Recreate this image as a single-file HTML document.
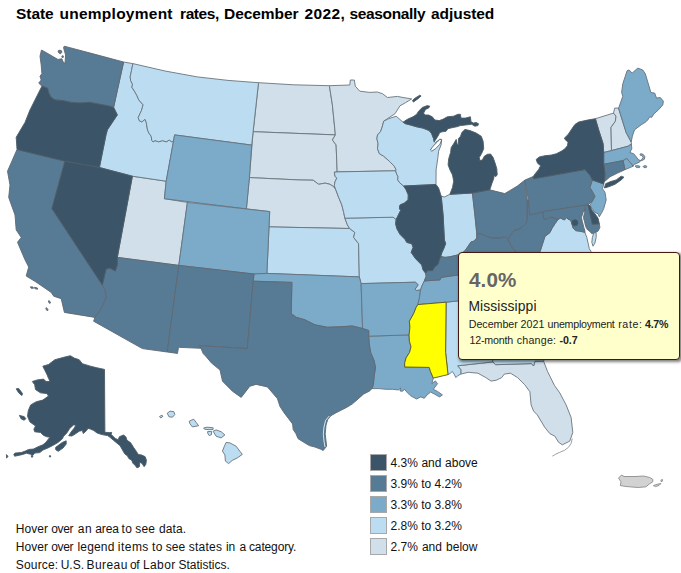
<!DOCTYPE html>
<html><head><meta charset="utf-8"><title>State unemployment rates</title>
<style>
html,body{margin:0;padding:0;background:#fff;}
body{width:681px;height:573px;position:relative;overflow:hidden;font-family:"Liberation Sans",sans-serif;color:#000;}
#title{position:absolute;left:0;top:3.9px;font-weight:bold;font-size:15.5px;white-space:pre;line-height:20px;}
#title span{position:absolute;top:0;}
svg{position:absolute;left:0;top:0;}
svg path{stroke-width:0.9;stroke-linejoin:round;}
.lb{position:absolute;left:370px;width:15px;height:15px;border:1px solid #a8a8a8;}
.lt{position:absolute;left:390.5px;font-size:12px;line-height:17px;white-space:nowrap;color:#111;}
.note{position:absolute;font-size:12px;line-height:16px;white-space:nowrap;color:#111;}
#tip{position:absolute;left:457.8px;top:251.8px;width:222.6px;height:107.8px;background:#ffffcc;border:1.2px solid #45190f;border-radius:4px;box-shadow:1.5px 1.5px 3px rgba(0,0,0,0.5);box-sizing:border-box;}
#tip div{position:absolute;left:10.2px;white-space:nowrap;color:#222;}
</style></head><body>
<svg width="681" height="573" viewBox="0 0 681 573">
<path d="M618.5,478.1 621.6,475 624.1,476.5 636,476.5 643.4,476 649.7,477.5 652.8,479.3 652.8,481.8 649.7,483.7 645.9,486.8 638.4,487.5 626,486.5 620.3,485.6 621,481.8ZM653.4,485.6 657,484.3 660.9,483.5 659,485.5 655.5,486.6ZM661,480 662.5,479.5 662.3,481.3 661,481.5Z" fill="#d2d2d2" stroke="#8c8c8c"/>
<path d="M258.5,82.7 293.7,84.8 329.4,85.7 332.4,104.9 335.4,134.9 253.1,131.7Z" fill="#d0dfe9" stroke="#6a757d"/>
<path d="M253.1,131.7 335.4,134.9 332.4,139.9 336.1,144.9 337.2,171.9 334.3,172.2 335,176.2 336.8,178.1 335,181.8 334.3,185.6 335.6,189.3 333.7,186.8 330,184.3 325,183.1 318.7,184.3 313.1,180.2 300,180 249.4,177.6Z" fill="#d0dfe9" stroke="#6a757d"/>
<path d="M249.4,177.6 300,180 313.1,180.2 318.7,184.3 325,183.1 330,184.3 333.7,186.8 335.6,189.3 338.7,197.5 341.8,204.9 343.7,212.4 344.9,218.2 347.4,224.9 349.6,228.5 269,226.9 269.7,211.6 246.4,208.9Z" fill="#d0dfe9" stroke="#6a757d"/>
<path d="M132.4,176.2 166.2,181.2 164.4,198.7 187.4,202.4 178.8,265.4 117.3,257.4Z" fill="#d0dfe9" stroke="#6a757d"/>
<path d="M329.4,85.7 349.8,85 350.3,80 354.3,80 355.3,86.2 359.8,91.2 369.8,92.4 377.3,92 382.5,93.7 387.5,97.5 397.5,96.4 403,97.5 411.7,98.9 405.5,102.7 400,105.8 395,113.7 387.5,118.7 383.7,121.2 382.2,127 380.6,131.5 377.5,135 376.9,138.7 378.1,143.7 377.5,148.7 379.4,153.7 383.7,156.2 389.3,161.2 394.3,166.2 396.2,169.9 395.6,170.8 337.2,171.9 336.1,144.9 332.4,139.9 335.4,134.9 332.4,104.9Z" fill="#d0dfe9" stroke="#6a757d"/>
<path d="M457.6,365.8 492.9,361.9 495.5,364.7 531.5,363.6 533.6,366 535,361.2 543.6,361.2 547.5,371.4 554.5,385.5 559.8,392.9 566.1,404.9 571.1,417.4 572.8,432.4 569.8,441.1 562.3,444.8 558.6,442.3 554.8,436.1 549.8,433.6 544.8,427.4 537.3,414.9 533.6,411.1 531.1,404.9 529.9,391.7 524.6,384.6 517.5,377.6 510.5,373.2 504.3,374.1 501.7,377.6 496.4,380.2 491.1,381.1 485.8,377.6 477.9,373.2 468.2,372.3 460.8,374.1 460.8,369.7Z" fill="#d0dfe9" stroke="#6a757d"/>
<path d="M595.4,118.7 613.5,113.1 616,116.2 615.4,121.2 611,127.4 611.5,150.6 603.7,152.5 603.1,143.7 598.7,130Z" fill="#d0dfe9" stroke="#6a757d"/>
<path d="M613.5,113.1 614.7,108.1 618.5,108.1 626.1,132.4 631.2,142 631.4,144 628.1,146.2 611.5,150.6 611,127.4 615.4,121.2 616,116.2Z" fill="#d0dfe9" stroke="#6a757d"/>
<path d="M123.6,62 132.9,63.6 131.5,70.5 130.2,76.7 130.6,80.5 132.5,84.2 131.9,87.3 134.4,91.1 136.9,95.5 138.7,99.8 143.1,104.8 141.5,110.5 139.8,114 138.2,117.7 139.4,120.8 141.9,121.9 145,119.3 146.2,122.2 147.5,130 149.3,133.7 151.2,136.2 151.8,140.6 153.1,141.8 155,140.6 158.7,141.8 162.5,140.6 166.2,141.8 169.3,140 171.8,141.8 173.6,140.6 166.2,181.2 132.4,176.2 99.4,167.5 106,134.8 107.3,129.9 117.3,114.9 113.6,107.4Z" fill="#bcddf1" stroke="#68747d"/>
<path d="M132.9,63.6 165,71 197.4,76.9 228,80.4 258.5,82.7 253.1,131.7 251.7,145.1 174.6,134.9 173.6,140.6 171.8,141.8 169.3,140 166.2,141.8 162.5,140.6 158.7,141.8 155,140.6 153.1,141.8 151.8,140.6 151.2,136.2 149.3,133.7 147.5,130 146.2,122.2 145,119.3 141.9,121.9 139.4,120.8 138.2,117.7 139.8,114 141.5,110.5 143.1,104.8 138.7,99.8 136.9,95.5 134.4,91.1 131.9,87.3 132.5,84.2 130.6,80.5 130.2,76.7 131.5,70.5Z" fill="#bcddf1" stroke="#68747d"/>
<path d="M269,226.9 349.6,228.5 354.8,232.4 353.6,237.4 358.6,243.7 359.3,276.9 266.9,273.4Z" fill="#bcddf1" stroke="#68747d"/>
<path d="M344.9,218.2 393.1,217.2 396.2,219.5 395.6,223.7 396.9,228.7 400,234.3 405,239.3 406.8,242.4 411.8,243.7 413.1,247.4 411.2,252.4 415.6,258.7 421.8,265 423.1,270 425.6,273.1 426.2,276.2 424.3,281 421.8,286.2 420.6,289.9 416.8,290.6 415,289.3 418.1,284.9 415.6,282.2 361.1,283.6 359.3,276.9 358.6,243.7 353.6,237.4 354.8,232.4 349.6,228.5 347.4,224.9Z" fill="#bcddf1" stroke="#68747d"/>
<path d="M337.2,171.9 395.6,170.8 396.8,174.3 398.1,176.8 397.7,179.9 400,183.1 403.7,186 406.2,189.9 408.3,194.9 408.1,200 404.3,203.1 400,205 399.4,208.1 400.6,210.6 398.7,214.3 396.2,219.5 393.1,217.2 344.9,218.2 343.7,212.4 341.8,204.9 338.7,197.5 335.6,189.3 334.3,185.6 335,181.8 336.8,178.1 335,176.2 334.3,172.2Z" fill="#bcddf1" stroke="#68747d"/>
<path d="M383.7,121.2 388.7,118.7 396.2,116.2 403,122.2 405.5,123.7 410.5,125 416.7,126.8 423,128.1 429.2,130.6 431.7,133.7 433.6,138.7 434.2,141.8 435.5,142.4 439.8,139.3 441.7,139.3 441.1,144.9 438.6,151.2 437.9,157.4 436.1,169.9 436,184.5 403.7,186 400,183.1 397.7,179.9 398.1,176.8 396.8,174.3 395.6,170.8 396.2,169.9 394.3,166.2 389.3,161.2 383.7,156.2 379.4,153.7 377.5,148.7 378.1,143.7 376.9,138.7 377.5,135 380.6,131.5 382.2,127Z" fill="#bcddf1" stroke="#68747d"/>
<path d="M441.2,196.2 444.3,197 449.9,194.3 472.4,193 474.9,215 476.8,233.7 476.8,238.1 473.7,241.2 471.2,241.8 468.1,246.2 465.6,250 463.7,251.8 458.1,254.9 455,255.6 450,256.8 445,257.4 440.6,256.5 441.9,252.5 443.7,248.7 445.6,243.7 444.4,240 443.1,215Z" fill="#bcddf1" stroke="#68747d"/>
<path d="M446.1,302.2 480,298.5 490,340 492.9,361.9 457.6,365.8 460.8,369.7 460.8,374.1 457.6,375.8 455.9,377.6 454.1,374.1 452.3,371.4 450,373.5 448,374.6 445.6,352.4Z" fill="#bcddf1" stroke="#68747d"/>
<path d="M480,298.5 507,296 515,305 535,325 548,343 543.6,361.2 535,361.2 533.6,366 531.5,363.6 495.5,364.7 492.9,361.9 490,340Z" fill="#bcddf1" stroke="#68747d"/>
<path d="M558.1,219.3 560.6,218.1 564.3,220 566.8,217.5 568.1,219.3 570.6,220 572,224 573.1,228.1 575.6,230.6 579.9,231.2 583.7,230.6 584.9,232.5 586.8,237.4 588.1,243.1 589.3,248.7 591.2,251.8 596,262 598,272 492,274 505,262 517.3,252.4 525,258 535,256 540,251.8 545,236.2 546.9,235 550,232.5 551.8,228.7 555,223.7ZM593.7,233.1 596.2,232.5 596.2,237.4 594.9,243.1 593,246.2 591.8,242.4 592.4,237.4Z" fill="#bcddf1" stroke="#68747d"/>
<path d="M226.1,442.4 229.9,442.9 236.1,446.2 239.8,451.1 242.3,454.4 237.3,457.9 232.3,460.4 228.6,463.6 225.4,461.1 224.9,454.9 222.4,451.1 224.4,446.2ZM213.1,431.2 216.1,429.9 221.1,431.7 224.9,434.9 221.1,437.9 216.1,436.2ZM203.6,428 207,427.2 213.2,427.8 213,429.6 208,429.6 204.5,429.2ZM207.6,431.6 211.6,431.4 211.5,434.6 209.3,435.6 207.8,433.5ZM189.2,421.2 193.7,419.2 196.2,422.4 198.6,425.7 192.4,426.9 189.9,423.7ZM167.2,413.2 170,411.2 173.8,411.6 174.8,414.5 172.5,417.2 169,416.8ZM159.5,416.5 162,415.2 163,416.2 160.8,418Z" fill="#bcddf1" stroke="#68747d"/>
<path d="M174.6,134.9 251.7,145.1 249.4,177.6 246.4,208.9 164.4,198.7 166.2,181.2 173.6,140.6Z" fill="#7babc9" stroke="#64727e"/>
<path d="M187.4,202.4 269.7,211.6 269,226.9 266.9,273.4 254,274 178.8,265.4Z" fill="#7babc9" stroke="#64727e"/>
<path d="M254,274 266.9,273.4 359.3,276.9 361.1,283.6 362.6,328.5 352.3,326 339.9,326.8 327.4,327.3 314.9,324.8 304.9,319.8 296.2,317.3 291.2,313.6 291.9,282.4 253.2,281.2Z" fill="#7babc9" stroke="#64727e"/>
<path d="M368.7,336.2 409.1,334.9 409.4,341.2 411,346.7 409.6,352.3 406.1,357.9 404.7,362.8 404.7,367 429.2,367.4 430.6,371.8 433.3,378.1 431.9,383.7 435.4,380.9 437.5,383.7 433.3,389.3 437.5,391.4 442.4,394.9 439.6,396.9 434.7,394.2 430.6,392.1 427.1,394.9 424.3,398.3 420.8,396.9 416.6,399 410.3,395.6 406.8,392.1 404.7,389.3 402.5,391.2 400,391 400.6,387.9 398.5,390 392.9,389.3 385.9,389.3 378.9,388.6 372,388.6 373.4,384.4 374.1,376 375.5,367.7 374.1,360.7 370.6,352.3 369.2,343.9Z" fill="#7babc9" stroke="#64727e"/>
<path d="M361.1,283.6 415.6,282.2 418.1,284.9 415,289.3 416.8,290.6 420.6,289.9 419.3,298.7 417.8,304.6 416.1,307.5 413.6,313.7 409.4,321.2 409.9,327.4 409.1,334.9 368.7,336.2 368.7,330.5 362.6,328.5Z" fill="#7babc9" stroke="#64727e"/>
<path d="M424.3,281 430,280.5 440,279.9 441.2,277.4 458.7,274.9 490,273 530,268 520,280 490,298 458.7,300.8 446.1,302.2 417.8,304.6 419.3,298.7 420.6,289.9 421.8,286.2Z" fill="#7babc9" stroke="#64727e"/>
<path d="M618.5,108.1 619.1,106.8 622.8,96.2 621.6,92.5 622.8,83.7 625.3,76.2 627.2,70.6 629.1,70 632.2,73.1 637.8,68.1 642.8,70 645.3,73.7 650.9,92.5 654.7,93.1 656.5,98.1 660.3,97.5 663.4,101.2 662.8,104.9 658.4,109.9 654.1,113.7 651.6,117.4 649.7,116.8 647.8,119.9 645.9,121.8 641,124.9 636,128.7 634.5,129.9 632.4,136.1 631.2,142 626.1,132.4Z" fill="#7babc9" stroke="#64727e"/>
<path d="M603.7,152.5 611.5,150.6 628.1,146.2 631.4,144 631.8,148.7 629.9,152.5 633.7,153.7 636.2,156.8 638.7,160 641.8,160.6 644.3,159.3 644.9,156.8 643.1,154.3 640.6,153.7 639.9,155 641.8,155.6 643.1,157.5 641.8,159.3 639.9,161.8 636.2,163.7 634.3,164.3 633.1,166.2 631.2,163.7 626.8,158.5 623.1,160.6 603.7,164.3ZM635,166 637.5,165.6 640,166.3 639.5,167.6 636.5,167.6ZM643,166.5 645,165.6 646.8,166.2 646.3,167.6 644,167.6Z" fill="#7babc9" stroke="#64727e"/>
<path d="M626.8,158.5 631.2,163.7 633.1,166.2 631.8,166.8 624.9,169.7 623.1,160.6Z" fill="#7babc9" stroke="#64727e"/>
<path d="M592.4,180 603.7,184 602.5,188.7 605,192.4 606.2,199.9 603.7,208.7 601.8,212.5 599.3,216.8 598,213.7 594.9,212.5 591.8,208.1 589.9,205.3 592.4,201.2 594.9,196.2 589.9,187.4Z" fill="#7babc9" stroke="#64727e"/>
<path d="M41.5,50 46,52.5 52,56 58,59.5 61.8,58.7 63.7,63.1 65,63.1 65.6,55 63.5,47.5 64.3,46.2 94.9,54.3 123.6,62 113.6,107.4 109.9,106.2 99.9,104.3 89.9,102.4 79.9,103 71.2,102.4 62.5,100.5 55,99.9 50.6,96.8 48.7,92.4 47.5,88.1 41.9,86.2 38.7,83.1 41.2,80 40,76.2 41.9,73.7 41.2,65 40,56.2ZM58.3,50.6 60,50.2 61.5,50.8 61.8,52.3 60.6,53.8 59.2,53.2 58.2,52ZM61.8,56 63.2,55.8 63.4,57.3 62.2,57.6Z" fill="#577b95" stroke="#5f6872"/>
<path d="M117.3,257.4 178.8,265.4 167.2,352 142.4,348.6 93.6,321.2 94.9,317.4 101.1,308.7 106.1,297.4 104.8,290 102.3,285 106.1,269 109.8,268 115.3,271 117.3,264.8Z" fill="#577b95" stroke="#5f6872"/>
<path d="M17,149.5 64.9,161.2 51.9,208.6 102.3,285 104.8,290 106.1,297.4 101.1,308.7 94.9,317.4 64.4,312.4 61.2,298.7 53.7,296.2 51.2,292.4 36,282 26.2,276 28.7,267 25,259.8 17.5,242.3 21.2,237.4 16.2,229.9 15,214.9 8.7,197.4 10,185 7.5,171.2ZM30.5,286.8 33,287 33.5,288.3 31,288.2ZM34.5,287.3 37.5,288 37.5,289.3 34.8,288.6ZM48.8,300.5 50.5,302 50,303.5 48.3,302ZM46.3,307.5 48,309.5 47.5,311 45.8,309Z" fill="#577b95" stroke="#5f6872"/>
<path d="M178.8,265.4 254,274 253.2,281.2 247.3,348.6 199.5,345.6 201,348.3 178.5,347.3 177.5,353.4 167.2,352Z" fill="#577b95" stroke="#5f6872"/>
<path d="M253.2,281.2 291.9,282.4 291.2,313.6 296.2,317.3 304.9,319.8 314.9,324.8 327.4,327.3 339.9,326.8 352.3,326 362.6,328.5 368.7,330.5 368.7,336.2 369.2,343.9 370.6,352.3 374.1,360.7 375.5,367.7 374.1,376 373.4,384.4 372,388.6 369.3,391.2 363.7,394 358.1,398.9 352.5,403.8 346.9,407.3 341.4,410.1 335.8,412.9 330.9,415.7 327.6,419.8 326,425.4 325.2,433.8 326,440.8 326.6,446.3 323.2,450.5 320.4,449.1 314.9,447 309.3,445.6 303.7,442.2 298.1,438.7 296,433.8 293.2,429.6 292.6,424 288.4,418.4 284.2,412.9 280,406.5 277.4,398.6 267.4,386.9 256.1,384.4 249.9,386.2 241.2,397.4 232.4,391.2 222.5,381.2 220,370 211.4,362.9 206.2,356.7 203.2,353.6 201,348.3 199.5,345.6 247.3,348.6Z" fill="#577b95" stroke="#5f6872"/>
<path d="M472.4,193 489.8,189.8 494.8,191.1 504.8,193.6 517.3,186.1 525,180 527.3,200 527.3,219.9 526,223.7 522.3,227.4 517.3,229.9 515,230 512.4,232.5 508,239.3 504.9,236.8 499.9,238.1 492.4,238.1 486.2,236.2 479.9,233.7 476.8,233.7 474.9,215Z" fill="#577b95" stroke="#5f6872"/>
<path d="M425.6,273.1 427.5,270.6 432.5,270.6 434.9,266.8 438.1,264.3 439.3,260 440.6,256.5 445,257.4 450,256.8 455,255.6 458.1,254.9 463.7,251.8 465.6,250 468.1,246.2 471.2,241.8 473.7,241.2 476.8,238.1 476.8,233.7 479.9,233.7 486.2,236.2 492.4,238.1 499.9,238.1 504.9,236.8 508,239.3 509.9,243.7 513,248.7 515,251.2 517.3,252.4 505,262 490,273 458.7,274.9 441.2,277.4 440,279.9 430,280.5 424.3,281 426.2,276.2Z" fill="#577b95" stroke="#5f6872"/>
<path d="M529.8,215 543.1,211.7 543.7,218.7 546.9,219.3 550.6,216.8 554.3,218.1 558.1,219.3 555,223.7 551.8,228.7 550,232.5 546.9,235 545,236.2 540,251.8 535,256 525,258 517.3,252.4 515,251.2 513,248.7 509.9,243.7 508,239.3 512.4,232.5 515,230 517.3,229.9 522.3,227.4 526,223.7 527.3,219.9 527.3,200 528.4,200Z" fill="#577b95" stroke="#5f6872"/>
<path d="M525,180 533.2,176.6 533.7,178.7 584.9,169.6 589.9,175 592.4,180 589.9,187.4 594.9,196.2 592.4,201.2 588,204.7 543.1,211.7 529.8,215 528.4,200Z" fill="#577b95" stroke="#5f6872"/>
<path d="M603.7,164.3 623.1,160.6 624.9,169.7 617.5,173.1 610,176.8 605,181.2 604.4,181.2 605,173.7Z" fill="#577b95" stroke="#5f6872"/>
<path d="M543.1,211.7 584.9,205.2 584.9,210 583.1,212.5 581.4,217.5 582.4,221.8 583.1,224.3 583.9,227.7 584.9,230.6 584.9,232.5 579.9,231.2 575.6,230.6 573.1,228.1 572,224 570.6,220 568.1,219.3 566.8,217.5 564.3,220 560.6,218.1 558.1,219.3 554.3,218.1 550.6,216.8 546.9,219.3 543.7,218.7ZM584.9,210 585.5,205.1 588,204.7 592.4,224.3 599.3,223.7 599.9,227.5 598,231.2 594.3,232.5 591.8,233.7 589.9,231.5 587.7,230 586.2,227.7 585.3,225 584.6,221.8 583.4,217.5 584.6,212.5Z" fill="#577b95" stroke="#5f6872"/>
<path d="M41.9,86.2 47.5,88.1 48.7,92.4 50.6,96.8 55,99.9 62.5,100.5 71.2,102.4 79.9,103 89.9,102.4 99.9,104.3 109.9,106.2 113.6,107.4 117.3,114.9 107.3,129.9 106,134.8 99.4,167.5 64.9,161.2 17,149.5 16.2,137.3 25,122.4 30,109.9 35,99.9Z" fill="#3b5467" stroke="#4c5c68"/>
<path d="M64.9,161.2 99.4,167.5 132.4,176.2 117.3,257.4 117.3,264.8 115.3,271 109.8,268 106.1,269 102.3,285 51.9,208.6Z" fill="#3b5467" stroke="#4c5c68"/>
<path d="M403.7,186 436,184.5 438.6,188 441.2,196.2 443.1,215 444.4,240 445.6,243.7 443.7,248.7 441.9,252.5 440.6,256.5 439.3,260 438.1,264.3 434.9,266.8 432.5,270.6 427.5,270.6 425.6,273.1 423.1,270 421.8,265 415.6,258.7 411.2,252.4 413.1,247.4 411.8,243.7 406.8,242.4 405,239.3 400,234.3 396.9,228.7 395.6,223.7 396.2,219.5 398.7,214.3 400.6,210.6 399.4,208.1 400,205 404.3,203.1 408.1,200 408.3,194.9 406.2,189.9Z" fill="#3b5467" stroke="#4c5c68"/>
<path d="M465,129.4 470,130.6 476.2,133.1 481.2,136.2 483.1,141.2 483.7,148.7 481.8,153.1 479.3,157.5 479.9,160.6 482.4,160 484.3,156.2 487.4,154.3 490.6,154 493.1,157.5 494.9,162.5 496.8,168.7 497.2,174.9 495.6,176.8 494.3,174.9 493.7,178.7 491.8,183.7 490.6,187.4 489.8,189.8 472.4,193 449.9,194.3 452.5,187.4 453.7,181.2 452.5,174.9 450,169.9 448.1,164.9 448.7,158.7 450.6,152.5 451.2,147.5 453.7,143.7 456.2,139.4 457.3,144.5 458.5,144.5 458.4,138.7 460.6,136.2 461.8,132.5ZM403,122.2 407.4,119.3 413,116.8 416.7,114.3 418.6,111.2 422.3,107.5 427.3,105.6 429.8,106.2 428.6,108.1 425.5,109.4 423.6,113.1 424.8,115 428.6,115 432.3,116.8 434.8,120 439.2,120.6 442.9,119.3 447.3,116.8 453.6,116.2 457.9,114.3 460.4,114.3 461,118.1 465.4,118.1 470.4,116.8 471,121.8 473.5,123.1 476,122.5 478.5,123.7 477.9,125.6 474.8,126.2 471.7,124.3 465.4,125 460.4,125.6 456.7,126.8 452.9,127.5 447.9,128.7 446.1,131.2 442.3,131.8 439.8,132.5 437.9,136.2 435.5,139.9 434.2,141.8 433.6,138.7 431.7,133.7 429.2,130.6 423,128.1 416.7,126.8 410.5,125 405.5,123.7ZM412.4,101 414.2,98.7 419.8,95.2 421.1,96 418,98.7 413.6,101.9Z" fill="#3b5467" stroke="#4c5c68"/>
<path d="M595.4,118.7 587.4,120.1 578.7,122 574.9,124.5 571.8,128.9 568.1,134.5 564.3,138.2 566.2,140.7 568.1,142 567.4,145.7 564.9,148.8 561.2,151.3 556.2,153.8 551.2,155.1 545,155.7 539.4,156.9 536.2,159.4 537.5,163.2 540.6,165.7 538.7,169.4 535.6,173.2 533.2,176.6 533.7,178.7 584.9,169.6 589.9,175 592.4,180 603.7,184 604.4,181.2 605,173.7 603.7,164.3 603.7,152.5 603.1,143.7 598.7,130ZM604.4,188 605.6,183.7 610,181.8 616.2,179.9 621.2,176.2 624,177.2 621.2,179.9 615,184.3 608.7,186.8Z" fill="#3b5467" stroke="#4c5c68"/>
<path d="M588,204.7 589.9,205.6 591.8,210 594.9,213.7 598,218.1 599.3,223.7 592.4,224.3Z" fill="#3b5467" stroke="#4c5c68"/>
<path d="M70.3,355.7 74.3,358.1 79.2,359.7 82.4,363.7 90.5,366.2 96.9,367.8 104.5,369.4 104.9,432.3 109.4,432.6 111.7,432.4 111.2,434.4 115.3,438.5 118.2,439.7 119.4,436.7 123.5,435 125.8,436.7 127,440.3 130.5,442.6 133.5,447.3 136.4,451.4 138.2,454.4 141.7,455 145.2,456.7 146.4,460.2 145.8,464.4 144.1,466.7 142.3,463.8 139.9,462 139.4,466.7 137,467.9 135.2,465.5 132.9,463.2 131.7,460.2 128.8,458.5 127.6,456.1 124.7,453.8 122.3,449.7 120,445.6 117,443.2 113.5,440.3 110,437.3 107.6,435.6 101.8,434.6 97.1,433 93.7,430.5 90.3,429 88,428.4 86.4,430.8 83.2,433.5 82.4,430.5 79.2,431.2 75.9,433.6 71.9,436 68.7,435.7 71.1,432 74.3,427.9 75.9,425 73.5,425 69.5,428.7 67,432.8 63.6,436.2 62.4,438.8 58.3,442.3 53.2,445.3 48,447.9 42.9,450.1 39.8,452.6 34.7,453.1 32.5,455.8 30.6,454.3 26.4,453.2 23.4,454.3 19.2,455.3 14.6,456.2 13.8,454.3 15.1,453.1 21.3,452.5 25.4,451 28.5,449.5 33.6,449 37.7,446.9 42.9,444.8 46,442.3 48.8,438.5 50.1,437.2 46.8,436.8 43.6,435.4 40.4,432.4 34.7,431.8 33.9,429.2 35.5,425.9 29.9,421.9 27.5,416.2 28.3,410.6 30.7,404.9 36.3,401.7 42.8,400.1 48.5,396 46.8,393.6 40.4,392.8 35.5,389.6 34.7,384.7 32.3,381.5 37.2,379.9 43.6,379.1 46,381.5 50.1,381.5 48.5,378.3 46.8,374.2 44.4,369.4 42.8,366.2 48.5,364.5 54.9,359.7 63.8,357.3ZM55.7,447.3 62.2,442.5 66.2,440.8 66.2,444.1 63,448.1 58.2,451.3 55.7,449.7ZM16.2,388.8 18.6,388.4 22.6,393.6 21.8,395.6 18.6,392.8ZM19.4,415.4 24.2,416.6 25.8,418.7 24.2,420.3 21,418.7ZM6.5,454.6 8.1,456.5 6.5,458ZM49.6,455.6 50.9,456 50.2,457.2 49.3,456.6ZM31,455.8 33,456.3 32,457.5Z" fill="#3b5467" stroke="#4c5c68"/>
<path d="M417.8,304.6 446.1,302.2 445.6,352.4 448,374.6 433.3,378.1 430.6,371.8 429.2,367.4 404.7,367 404.7,362.8 406.1,357.9 409.6,352.3 411,346.7 409.4,341.2 409.1,334.9 409.9,327.4 409.4,321.2 413.6,313.7 416.1,307.5Z" fill="#ffff00" stroke="#55552a"/>
<path d="M439.9,139.2 441.6,140 439.9,144.4 435.5,148.7 431.8,151.2 430.4,150 433,146.2 437.4,141.9Z" fill="#fff" stroke="#59636b" stroke-width="0.6"/>
<polyline points="329.3,416 325.6,420.4 324,427 323.3,434 324,441 325,447" fill="none" stroke="#fff" stroke-width="0.8"/>
<polyline points="572.3,438.6 571,443.5 568.5,447.3 564.5,450.3 559.8,452.3 555.5,454.3 552.3,456.1" fill="none" stroke="#8f979c" stroke-width="0.9"/>
<circle cx="574.9" cy="222.8" r="3.2" fill="#3b5467" stroke="#59636b" stroke-width="0.6"/>
</svg>
<div id="title"><span style="left:16.0px;letter-spacing:-0.05px">State</span><span style="left:59.5px;letter-spacing:0.254px">unemployment</span><span style="left:180px;letter-spacing:-0.4px">rates,</span><span style="left:224.0px;letter-spacing:-0.056px">December</span><span style="left:304.5px;letter-spacing:0.4px">2022,</span><span style="left:349.5px;letter-spacing:-0.356px">seasonally</span><span style="left:431.0px;letter-spacing:-0.058px">adjusted</span></div>
<div class="lb" style="top:454.0px;background:#3b5467"></div><div class="lt" style="top:455.0px;word-spacing:0.25px">4.3% and above</div>
<div class="lb" style="top:475.0px;background:#577b95"></div><div class="lt" style="top:476.0px;word-spacing:0px">3.9% to 4.2%</div>
<div class="lb" style="top:496.0px;background:#7babc9"></div><div class="lt" style="top:497.0px;word-spacing:0px">3.3% to 3.8%</div>
<div class="lb" style="top:517.0px;background:#bcddf1"></div><div class="lt" style="top:518.0px;word-spacing:0px">2.8% to 3.2%</div>
<div class="lb" style="top:538.0px;background:#d0dfe9"></div><div class="lt" style="top:539.0px;word-spacing:0.75px">2.7% and below</div>

<div class="note" style="top:521.3px;left:15.85px;letter-spacing:0.05px">Hover</div><div class="note" style="top:521.3px;left:51.15px;letter-spacing:-0.314px">over</div><div class="note" style="top:521.3px;left:77.83px;letter-spacing:0.5px">an</div><div class="note" style="top:521.3px;left:95.17px;letter-spacing:-0.094px">area</div><div class="note" style="top:521.3px;left:121.53px;letter-spacing:0.5px">to</div><div class="note" style="top:521.3px;left:135.35px;letter-spacing:0.171px">see</div><div class="note" style="top:521.3px;left:158.9px;letter-spacing:0.123px">data.</div>
<div class="note" style="top:539.2px;left:15.85px;letter-spacing:0.05px">Hover</div><div class="note" style="top:539.2px;left:51.15px;letter-spacing:-0.314px">over</div><div class="note" style="top:539.2px;left:77.56px;letter-spacing:0.151px">legend</div><div class="note" style="top:539.2px;left:117.75px;letter-spacing:0.487px">items</div><div class="note" style="top:539.2px;left:151.9px;letter-spacing:0.452px">to</div><div class="note" style="top:539.2px;left:165.72px;letter-spacing:0.076px">see</div><div class="note" style="top:539.2px;left:188.87px;letter-spacing:0.203px">states</div><div class="note" style="top:539.2px;left:226.05px;letter-spacing:-0.292px">in</div><div class="note" style="top:539.2px;left:239.5px;letter-spacing:-0.4px">a</div><div class="note" style="top:539.2px;left:249.02px;letter-spacing:-0.144px">category.</div>
<div class="note" style="top:557.3px;left:15.75px;letter-spacing:0.175px">Source:</div><div class="note" style="top:557.3px;left:60.67px;letter-spacing:0.016px">U.S.</div><div class="note" style="top:557.3px;left:86.5px;letter-spacing:0.435px">Bureau</div><div class="note" style="top:557.3px;left:129.91px;letter-spacing:-0.4px">of</div><div class="note" style="top:557.3px;left:142.88px;letter-spacing:0.411px">Labor</div><div class="note" style="top:557.3px;left:178.38px;letter-spacing:0.018px">Statistics.</div>
<div id="tip">
<div style="top:16.8px;left:10.3px;font-size:20.6px;font-weight:bold;color:#666;line-height:20.6px;letter-spacing:0.07px">4.0%</div>
<div style="top:45px;left:9.62px;font-size:13.85px;line-height:16px;letter-spacing:0.116px">Mississippi</div>
<div style="top:65px;left:10.03px;font-size:10.67px;line-height:12px;letter-spacing:-0.032px;">December</div><div style="top:65px;left:61.69px;font-size:10.67px;line-height:12px;letter-spacing:0.093px;">2021</div><div style="top:65px;left:88.75px;font-size:10.67px;line-height:12px;letter-spacing:-0.241px;">unemployment</div><div style="top:65px;left:159.42px;font-size:10.67px;line-height:12px;letter-spacing:0.621px;">rate:</div><div style="top:65px;left:186.26px;font-size:10.67px;line-height:12px;letter-spacing:-0.319px;font-weight:bold;">4.7%</div>
<div style="top:81.2px;left:10.65px;font-size:10.67px;line-height:12px;letter-spacing:-0.171px;">12-month</div><div style="top:81.2px;left:57.85px;font-size:10.67px;line-height:12px;letter-spacing:0.243px;">change:</div><div style="top:81.2px;left:100.8px;font-size:10.67px;line-height:12px;letter-spacing:-0.122px;font-weight:bold;">-0.7</div>
</div>
</body></html>
